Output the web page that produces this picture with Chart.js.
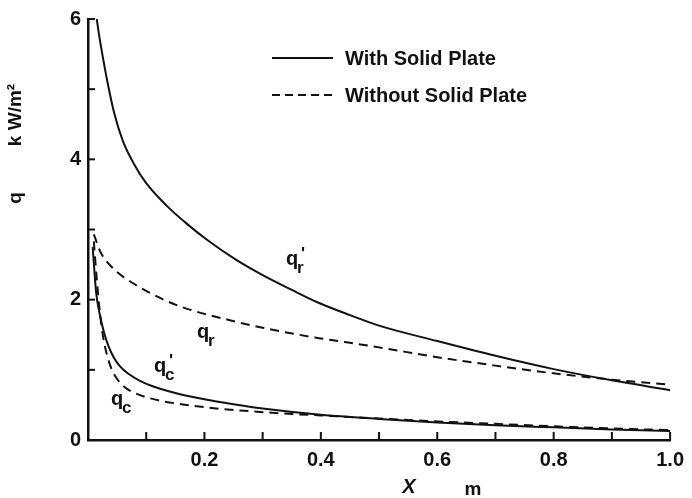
<!DOCTYPE html>
<html lang="en">
<head>
<meta charset="utf-8" />
<title>Heat flux q along X</title>
<script src="https://cdn.jsdelivr.net/npm/chart.js@4.4.0/dist/chart.umd.min.js"></script>
<style>
	html, body { margin: 0; padding: 0; background: #fff; }
	canvas { display: block; }
</style>
</head>
<body>
<canvas id="chart" width="692" height="498"></canvas>
<script>
// q_r' - radiative flux, with solid plate (solid line)
const xRadWith = [0.015, 0.020, 0.025, 0.033, 0.045, 0.060, 0.080, 0.100, 0.135, 0.170, 0.205, 0.254, 0.30, 0.35, 0.395, 0.45, 0.50, 0.60, 0.70, 0.80, 0.90, 1.0];
const qRadWith = [6.00, 5.72, 5.48, 5.12, 4.66, 4.26, 3.92, 3.66, 3.34, 3.08, 2.85, 2.57, 2.35, 2.14, 1.96, 1.78, 1.63, 1.41, 1.20, 1.01, 0.85, 0.71];

// q_r - radiative flux, without solid plate (dashed)
const xRadWithout = [0.01, 0.022, 0.044, 0.078, 0.13, 0.163, 0.247, 0.30, 0.39, 0.43, 0.50, 0.60, 0.70, 0.80, 0.90, 1.0];
const qRadWithout = [2.93, 2.67, 2.44, 2.23, 2.00, 1.89, 1.70, 1.60, 1.46, 1.41, 1.32, 1.18, 1.06, 0.95, 0.86, 0.79];

// q_c' - convective flux, with solid plate (solid line)
const xConvWith = [0.008, 0.014, 0.020, 0.027, 0.035, 0.044, 0.055, 0.070, 0.090, 0.110, 0.150, 0.200, 0.250, 0.300, 0.400, 0.500, 0.600, 0.700, 0.800, 0.900, 1.0];
const qConvWith = [2.75, 2.10, 1.80, 1.55, 1.34, 1.18, 1.05, 0.94, 0.84, 0.77, 0.67, 0.58, 0.51, 0.45, 0.36, 0.30, 0.25, 0.21, 0.18, 0.15, 0.13];

// q_c - convective flux, without solid plate (dashed)
const xConvWithout = [0.010, 0.015, 0.020, 0.025, 0.030, 0.040, 0.050, 0.065, 0.080, 0.100, 0.130, 0.170, 0.220, 0.280, 0.350, 0.400, 0.500, 0.600, 0.700, 0.800, 0.900, 1.0];
const qConvWithout = [2.83, 2.30, 1.85, 1.52, 1.30, 1.02, 0.87, 0.74, 0.67, 0.61, 0.55, 0.50, 0.45, 0.41, 0.37, 0.35, 0.305, 0.265, 0.23, 0.195, 0.165, 0.14];

const legendLabels = ['With Solid Plate', 'Without Solid Plate'];
const xTicksLabelled = [0.2, 0.4, 0.6, 0.8, 1.0];
const yTicksLabelled = [0, 2, 4, 6];

const FONT = "'Liberation Sans', Arial, Helvetica, sans-serif";
const INK = '#111';

function pts(xs, ys) {
	return xs.map((x, i) => ({ x: x, y: ys[i] }));
}

function curve(xs, ys, dashed) {
	return {
		data: pts(xs, ys),
		showLine: true,
		borderColor: INK,
		borderWidth: 2,
		borderDash: dashed ? [9, 6] : [],
		pointRadius: 0,
		cubicInterpolationMode: 'monotone',
		clip: 4
	};
}

// inward ticks, legend, axis titles and curve labels
const overlay = {
	id: 'overlay',
	afterDraw(chart) {
		const { ctx, chartArea: a, scales } = chart;
		const sx = scales.x, sy = scales.y;
		ctx.save();
		ctx.strokeStyle = INK;
		ctx.fillStyle = INK;
		ctx.lineWidth = 2;

		function seg(x1, y1, x2, y2, dash) {
			ctx.setLineDash(dash || []);
			ctx.beginPath();
			ctx.moveTo(x1, y1);
			ctx.lineTo(x2, y2);
			ctx.stroke();
		}

		sx.ticks.forEach(t => {
			if (t.value <= 0.001) return;
			const px = sx.getPixelForValue(t.value);
			seg(px, a.bottom, px, a.bottom - 8);
		});
		sy.ticks.forEach(t => {
			if (t.value <= 0) return;
			const py = sy.getPixelForValue(t.value);
			seg(a.left, py, a.left + 7, py);
		});

		// legend
		seg(272, 58, 333, 58);
		seg(272, 95, 333, 95, [8, 5]);
		ctx.setLineDash([]);
		ctx.font = 'bold 20px ' + FONT;
		ctx.textBaseline = 'middle';
		ctx.textAlign = 'left';
		ctx.fillText(legendLabels[0], 345, 59);
		ctx.fillText(legendLabels[1], 345, 96);

		// axis titles
		ctx.font = 'bold 19px ' + FONT;
		ctx.save();
		ctx.translate(16, 0);
		ctx.rotate(-Math.PI / 2);
		ctx.textAlign = 'center';
		ctx.fillText('q', -198, 0);
		ctx.fillText('k W/m²', -115, 0);
		ctx.restore();

		ctx.textAlign = 'center';
		ctx.font = 'italic bold 20px ' + FONT;
		ctx.fillText('X', 409, 487);
		ctx.font = 'bold 19px ' + FONT;
		ctx.fillText('m', 473, 490);

		// curve labels
		ctx.textBaseline = 'alphabetic';
		ctx.textAlign = 'left';
		function label(x, y, sub, prime) {
			ctx.font = 'bold 20px ' + FONT;
			ctx.fillText('q', x, y);
			ctx.font = 'bold 17px ' + FONT;
			ctx.fillText(sub, x + 11, y + 8);
			if (prime) ctx.fillText("'", x + 15, y - 6);
		}
		label(286, 265, 'r', true);
		label(197, 338, 'r', false);
		label(154, 372, 'c', true);
		label(111, 405, 'c', false);

		ctx.restore();
	}
};

new Chart(document.getElementById('chart'), {
	type: 'scatter',
	data: {
		datasets: [
			curve(xRadWith, qRadWith, false),
			curve(xRadWithout, qRadWithout, true),
			curve(xConvWith, qConvWith, false),
			curve(xConvWithout, qConvWithout, true)
		]
	},
	options: {
		responsive: false,
		animation: false,
		devicePixelRatio: 1,
		layout: { padding: { left: 0, top: 17, right: 15, bottom: 0 } },
		plugins: {
			legend: { display: false },
			tooltip: { enabled: false }
		},
		scales: {
			x: {
				type: 'linear',
				min: 0,
				max: 1,
				afterFit: s => { s.height = 58; },
				grid: { display: true, drawOnChartArea: false, drawTicks: false },
				border: { display: true, color: INK, width: 2.5 },
				ticks: {
					stepSize: 0.1,
					autoSkip: false,
					maxRotation: 0,
					padding: 8,
					color: INK,
					font: { family: FONT, size: 20, weight: 'bold' },
					callback: v => {
						const r = Math.round(v * 10) / 10;
						return xTicksLabelled.includes(r) ? r.toFixed(1) : '';
					}
				}
			},
			y: {
				min: 0,
				max: 6,
				afterFit: s => { s.width = 88; },
				grid: { display: true, drawOnChartArea: false, drawTicks: false },
				border: { display: true, color: INK, width: 2.5 },
				ticks: {
					stepSize: 1,
					autoSkip: false,
					padding: 7,
					color: INK,
					font: { family: FONT, size: 20, weight: 'bold' },
					callback: v => yTicksLabelled.includes(v) ? String(v) : ''
				}
			}
		}
	},
	plugins: [overlay]
});
</script>
</body>
</html>
